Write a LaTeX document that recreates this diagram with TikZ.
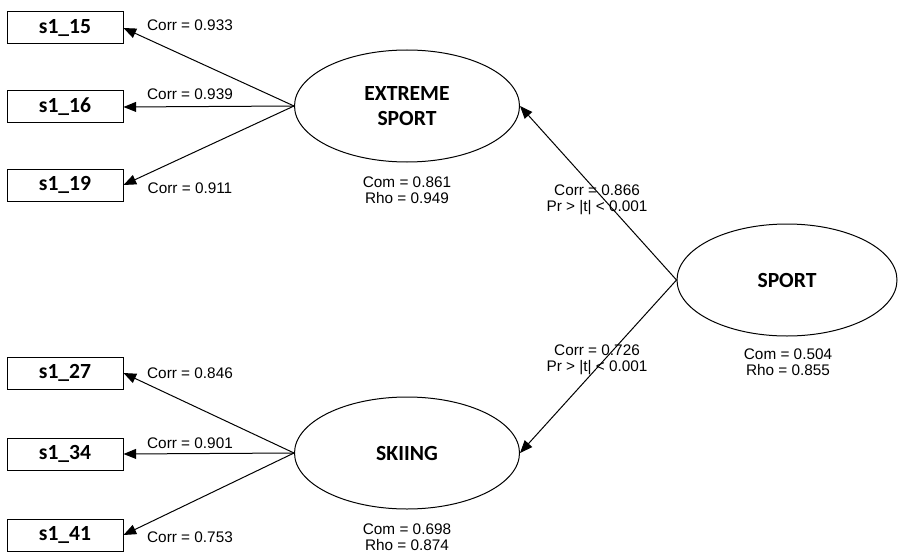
\documentclass[tikz,border=0pt]{standalone}
\usepackage{fontspec}
\setmainfont{Liberation Sans}
\newfontfamily\headfont{Carlito}
\usetikzlibrary{shapes.geometric,arrows.meta}

\begin{document}
\begin{tikzpicture}[x=0.75pt,y=-0.75pt,
  line width=0.75pt,
  manifest/.style={draw, rectangle, inner sep=0pt, minimum width=87pt,
    minimum height=24pt, font=\headfont\bfseries\fontsize{16.2}{17}\selectfont},
  latent/.style={draw, ellipse, inner sep=0pt, minimum width=168.75pt,
    minimum height=84pt, align=center,
    font=\headfont\bfseries\fontsize{16.2}{19}\selectfont},
  stat/.style={inner sep=0pt, align=center, font=\fontsize{11.5}{12.2}\selectfont},
  load/.style={-{Triangle[length=9.5pt,width=7.5pt]}}
]
\useasboundingbox (0,0) rectangle (898,556);

% manifest variables
\node[manifest] (b15) at (65,28)  {s1\_15};
\node[manifest] (b16) at (65,107) {s1\_16};
\node[manifest] (b19) at (65,185) {s1\_19};
\node[manifest] (b27) at (65,373) {s1\_27};
\node[manifest] (b34) at (65,454) {s1\_34};
\node[manifest] (b41) at (65,535) {s1\_41};

% latent variables
\node[latent] (ext)   at (407,106) {EXTREME\\SPORT};
\node[latent] (ski)   at (407,453) {SKIING};
\node[latent, minimum width=165pt] (sport) at (787,280) {SPORT};

% outer model
\draw[load] (ext.west) -- (b15.east);
\draw[load] (ext.west) -- (b16.east);
\draw[load] (ext.west) -- (b19.east);
\draw[load] (ski.west) -- (b27.east);
\draw[load] (ski.west) -- (b34.east);
\draw[load] (ski.west) -- (b41.east);

% inner model
\draw[load] (sport.west) -- (ext.east);
\draw[load] (sport.west) -- (ski.east);

% loadings
\node[stat] (l15) at (190,25)  {Corr = 0.933};
\node[stat] (l16) at (190,94)  {Corr = 0.939};
\node[stat] (l19) at (190,188) {Corr = 0.911};
\node[stat] (l27) at (190,373) {Corr = 0.846};
\node[stat] (l34) at (190,443) {Corr = 0.901};
\node[stat] (l41) at (190,537) {Corr = 0.753};

% path coefficients
\node[stat] (pext) at (597,200) {Corr = 0.866\\Pr > |t| < 0.001};
\node[stat] (pski) at (597,360) {Corr = 0.726\\Pr > |t| < 0.001};

% communality and reliability
\node[stat] (sext)   at (407,190) {Com = 0.861\\Rho = 0.949};
\node[stat] (sski)   at (407,537) {Com = 0.698\\Rho = 0.874};
\node[stat] (ssport) at (788,362) {Com = 0.504\\Rho = 0.855};
\end{tikzpicture}
\end{document}
